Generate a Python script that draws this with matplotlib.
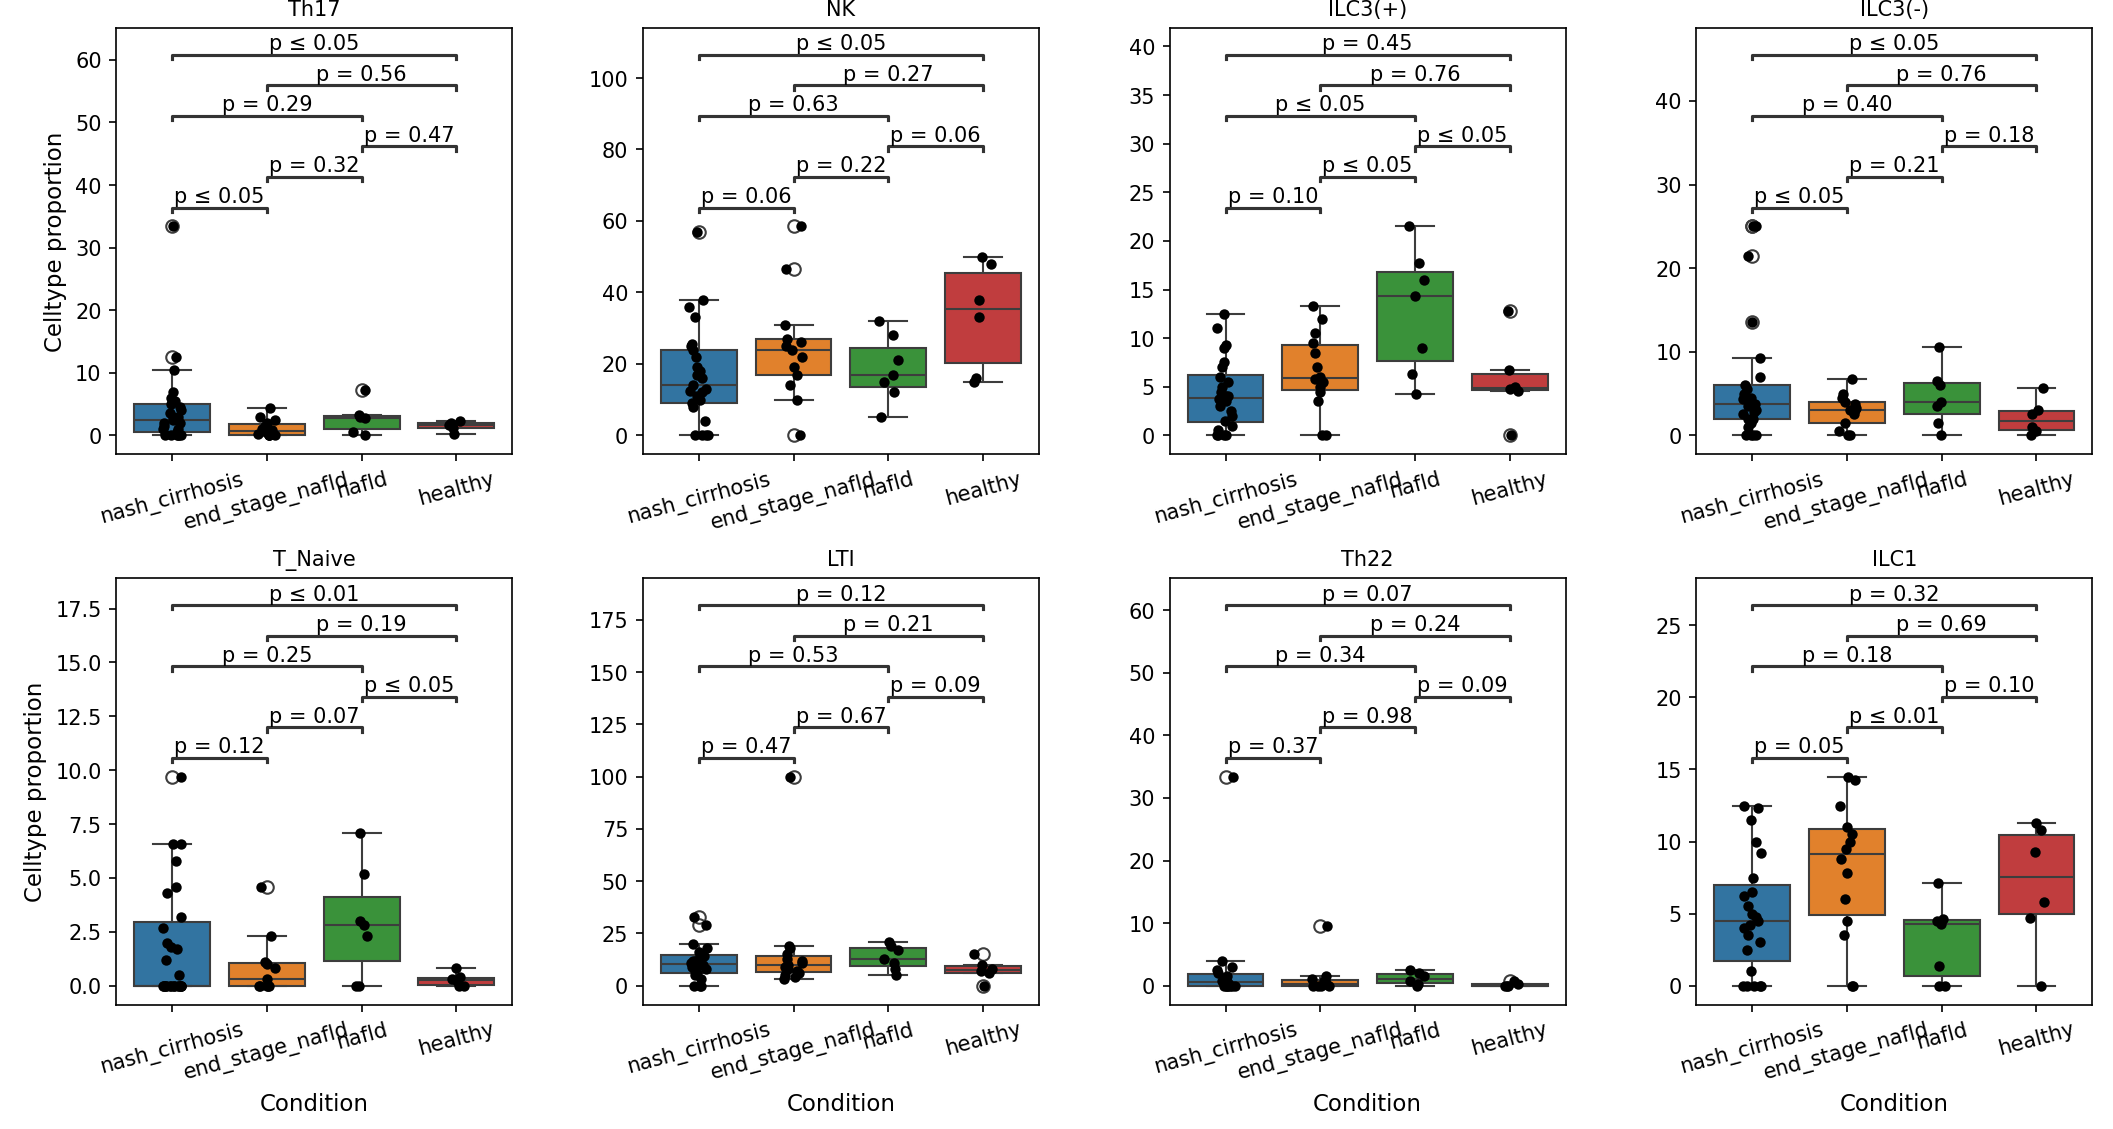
import numpy as np
import pandas as pd
import matplotlib
matplotlib.use("Agg")
import matplotlib.pyplot as plt
import seaborn as sns

groups = ["nash_cirrhosis", "end_stage_nafld", "nafld", "healthy"]
celltypes = ["Th17", "NK", "ILC3(+)", "ILC3(-)", "T_Naive", "LTI", "Th22", "ILC1"]

# values per cell type: nash_cirrhosis, end_stage_nafld, nafld, healthy
th17 = [[33.4, 12.5, 10.5, 7, 6, 5.5, 5, 4.5, 4, 3.5, 3, 3, 2.5, 2, 2, 1.5, 1, 1, 0.5, 0, 0, 0, 0, 0, 0],
        [4.3, 3, 2.5, 2, 1.5, 1, 0.8, 0.5, 0.3, 0.2, 0, 0, 0, 0],
        [7.2, 3.2, 2.9, 2.8, 0.5, 0],
        [2.3, 2.0, 1.6, 1.2, 0.2]]
nk = [[57, 38, 36, 33, 25.5, 25, 24, 22, 19, 18, 17, 16, 14, 13, 12.5, 12, 11, 10, 9, 8, 4, 0, 0, 0, 0],
      [58.5, 46.5, 31, 27, 26, 25, 24, 22, 19, 17, 14, 10, 0],
      [32, 28, 21, 17, 15, 12, 5],
      [50, 48, 38, 33, 16, 15]]
ilc3p = [[12.5, 11, 9.3, 9, 7.5, 7, 6, 5.5, 5, 4.5, 4, 4, 3.7, 3.5, 3, 2.5, 2, 1.5, 1, 0.5, 0, 0, 0, 0],
         [13.3, 12, 10.5, 9.5, 8.5, 7, 6, 5.8, 5.5, 5, 4.5, 3.5, 0, 0],
         [21.5, 17.7, 16, 14.3, 9, 6.3, 4.3],
         [12.8, 6.7, 5, 4.8, 4.6, 0]]
ilc3m = [[25, 25, 21.5, 13.5, 9.3, 7, 6, 5.5, 5, 4.5, 4.3, 4, 3.8, 3.5, 3, 2.8, 2.5, 2, 2, 1.5, 1, 0, 0, 0, 0],
         [6.7, 5, 4.5, 4, 3.7, 3.3, 3, 3, 2.5, 1.5, 0.5, 0, 0],
         [10.6, 6.5, 6, 4, 3.5, 1.5, 0],
         [5.7, 3, 2.5, 1, 0.5, 0]]
tnaive = [[9.7, 6.6, 6.6, 5.8, 4.6, 4.3, 3.2, 2.7, 2.0, 1.8, 1.7, 1.2, 0.5,
           0, 0, 0, 0, 0, 0, 0, 0, 0, 0, 0, 0, 0, 0],
          [4.6, 2.3, 1.1, 1.0, 0.8, 0.3, 0, 0, 0, 0, 0],
          [7.1, 5.2, 3.0, 2.8, 2.3, 0, 0],
          [0.8, 0.4, 0.3, 0.2, 0, 0]]
lti = [[33, 29, 20, 18, 16, 15, 14, 13, 12, 12, 11, 10, 10, 9, 8, 7, 6, 5, 3, 0, 0, 0],
       [100, 19, 18, 15, 13, 12, 11, 10, 9, 8, 7, 6, 5, 4, 3],
       [21, 19, 17, 13, 11, 8, 5],
       [15, 10, 8, 7, 6, 0]]
th22 = [[33.4, 4, 3, 2.5, 2, 1.5, 1.2, 1, 0.8, 0.5, 0.3, 0, 0, 0, 0, 0, 0, 0],
        [9.5, 1.5, 1, 0.8, 0.5, 0.3, 0.2, 0, 0, 0, 0],
        [2.5, 2, 1.5, 0.8, 0.3, 0],
        [0.8, 0.3, 0, 0, 0]]
ilc1 = [[12.5, 12.3, 11.5, 10, 9.2, 7.5, 6.5, 6.2, 5.5, 5, 4.8, 4.5, 4.2, 4, 3.5, 3, 2.5, 1, 0, 0, 0, 0, 0],
        [14.5, 14.3, 12.5, 11, 10.5, 10, 9.5, 8.8, 7.8, 6, 4.5, 3.5, 0, 0],
        [7.1, 4.6, 4.5, 4.3, 1.4, 0, 0],
        [11.3, 10.8, 9.3, 5.8, 4.7, 0]]
values = [th17, nk, ilc3p, ilc3m, tnaive, lti, th22, ilc1]

# comparisons, bottom to top
pairs = [(0, 1), (1, 2), (2, 3), (0, 2), (1, 3), (0, 3)]
pvals = [
    ["p ≤ 0.05", "p = 0.32", "p = 0.47", "p = 0.29", "p = 0.56", "p ≤ 0.05"],
    ["p = 0.06", "p = 0.22", "p = 0.06", "p = 0.63", "p = 0.27", "p ≤ 0.05"],
    ["p = 0.10", "p ≤ 0.05", "p ≤ 0.05", "p ≤ 0.05", "p = 0.76", "p = 0.45"],
    ["p ≤ 0.05", "p = 0.21", "p = 0.18", "p = 0.40", "p = 0.76", "p ≤ 0.05"],
    ["p = 0.12", "p = 0.07", "p ≤ 0.05", "p = 0.25", "p = 0.19", "p ≤ 0.01"],
    ["p = 0.47", "p = 0.67", "p = 0.09", "p = 0.53", "p = 0.21", "p = 0.12"],
    ["p = 0.37", "p = 0.98", "p = 0.09", "p = 0.34", "p = 0.24", "p = 0.07"],
    ["p = 0.05", "p ≤ 0.01", "p = 0.10", "p = 0.18", "p = 0.69", "p = 0.32"],
]

fig, axes = plt.subplots(2, 4, figsize=(14.09, 7.53), dpi=150)
for k, (ax, name) in enumerate(zip(axes.flat, celltypes)):
    rows = [(g, v) for g, vals in zip(groups, values[k]) for v in vals]
    df = pd.DataFrame(rows, columns=["Condition", "value"])
    sns.boxplot(data=df, x="Condition", y="value", hue="Condition", order=groups,
                palette="tab10", ax=ax, legend=False)
    np.random.seed(k)
    sns.stripplot(data=df, x="Condition", y="value", order=groups, color="black",
                  size=5, jitter=0.1, ax=ax)
    ymax = df["value"].max()
    # significance brackets
    for i, ((a, b), txt) in enumerate(zip(pairs, pvals[k])):
        y = ymax * (1.09 + 0.146 * i)
        h = ymax * 0.02
        ax.plot([a, a, b, b], [y - h, y, y, y - h], color="#333333", lw=1.5)
        ax.text((a + b) / 2, y + ymax * 0.005, txt, ha="center", va="bottom", fontsize=10)
    ax.set_ylim(top=ymax * 1.95)
    ax.set_title(name, fontsize=10)
    ax.tick_params(axis="x", rotation=15, labelsize=10)
    ax.set_ylabel("Celltype proportion" if k % 4 == 0 else "", fontsize=11)
    ax.set_xlabel("Condition" if k >= 4 else "", fontsize=11)

fig.subplots_adjust(left=0.055, right=0.99, bottom=0.11, top=0.975, wspace=0.33, hspace=0.29)
fig.savefig("out.png", dpi=150)
